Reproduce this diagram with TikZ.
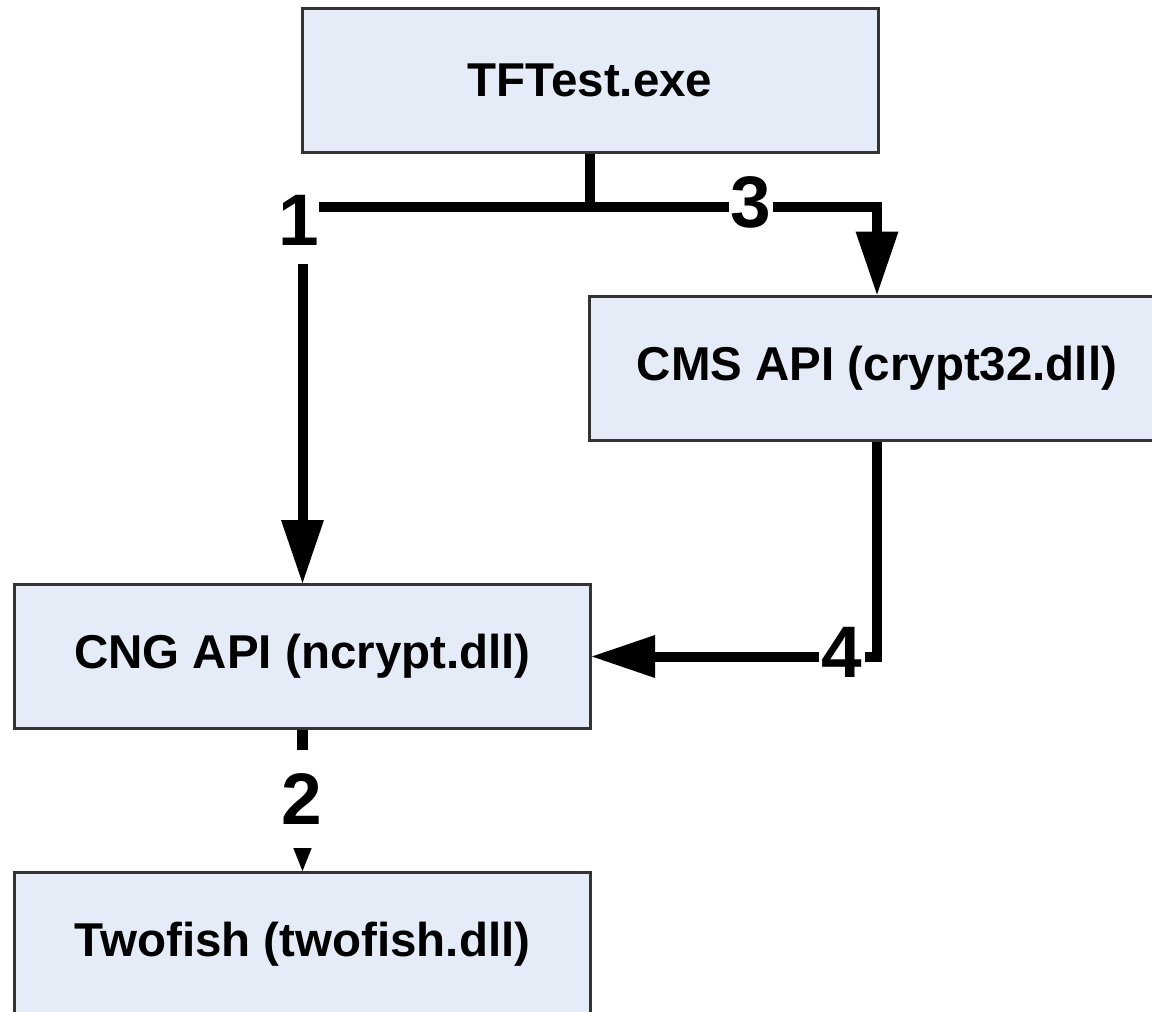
\documentclass[tikz,border=0pt]{standalone}
\usepackage{fontspec}
\setmainfont{Liberation Sans}
\usetikzlibrary{arrows.meta,calc}
\definecolor{boxfill}{HTML}{E6ECF7}
\definecolor{boxline}{HTML}{333333}
\tikzset{
  module/.style={draw=boxline, fill=boxfill, line width=3pt, minimum width=576pt,
    minimum height=144pt, inner sep=0pt, font=\fontsize{47.5}{57}\selectfont\bfseries},
  conn/.style={line width=10pt, line join=miter, line cap=butt,
    -{Triangle[length=63pt, width=43pt, line width=0pt]}},
  conn2/.style={line width=11pt, line cap=butt,
    -{Triangle[length=25pt, width=20pt, line width=0pt]}},
  numlabel/.style={fill=white, inner xsep=2pt, inner ysep=0pt,
    font=\fontsize{73}{80}\selectfont\bfseries}
}
\begin{document}
\begin{tikzpicture}[x=1pt, y=-1pt]
\useasboundingbox (0,0) rectangle (1152,1012);
\clip (0,0) rectangle (1152,1012);
\node[module] (tf) at (590,80.5) {TFTest.exe};
\node[module] (cms) at (877,368) {CMS API (crypt32.dll)};
\node[module] (cng) at (302.5,656.5) {CNG API (ncrypt.dll)};
\node[module] (two) at (302.5,944.5) {Twofish (twofish.dll)};
\coordinate (j) at (590,207);
\draw[conn, -] (tf.south) -- (j);
\draw[conn] (j) -| (cng.north);
\draw[conn] (j) -| (cms.north);
\draw[conn] (cms.south) |- (cng.east);
\draw[conn2] (cng.south) -- (two.north);
\node[numlabel, inner xsep=0pt, inner ysep=19pt] (l1) at (299,220) {1};
\node[numlabel] (l3) at (751,202) {3};
\node[numlabel, inner xsep=3pt] (l4) at (842,652) {4};
\node[numlabel, inner xsep=0pt, inner ysep=24pt] (l2) at (302,799) {2};
\end{tikzpicture}
\end{document}
